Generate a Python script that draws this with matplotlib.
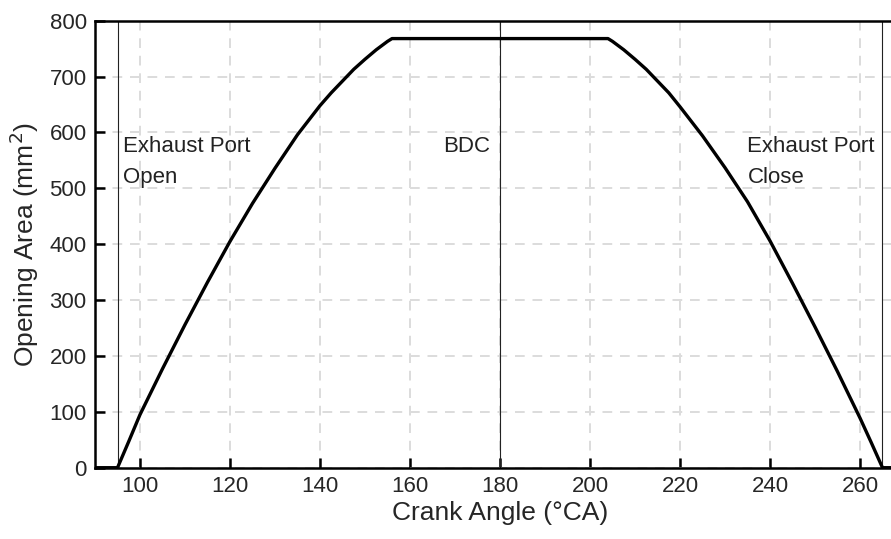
import matplotlib
matplotlib.use("Agg")
import matplotlib.pyplot as plt

plt.rcParams['font.family'] = ['Liberation Sans', 'DejaVu Sans']

# exhaust port opening area vs crank angle
crank_angle = [90, 95, 97.5, 100, 105, 110, 115, 120, 125, 130, 135, 137.5, 140, 142.5,
               145, 147.5, 150, 152.5, 155, 156,
               204, 205, 207.5, 210, 212.5, 215, 217.5, 220, 222.5, 225, 230, 235, 240,
               245, 250, 255, 260, 262.5, 265, 270]
open_area = [0, 0, 47, 95, 177, 256, 332, 405, 473, 536, 596, 622, 648, 671,
             692, 713, 731, 748, 763, 768,
             768, 763, 748, 731, 713, 692, 671, 646, 620, 594, 537, 476, 406,
             330, 252, 172, 89, 45, 0, 0]

marker_angles = [95, 180, 265]
marker_labels = ["Exhaust Port\nOpen", "BDC", "Exhaust Port\nClose"]
label_x = [96.2, 167.3, 235.0]

xticks = [100, 120, 140, 160, 180, 200, 220, 240, 260]
yticks = [0, 100, 200, 300, 400, 500, 600, 700, 800]

fig = plt.figure(figsize=(8.91, 5.39), dpi=100)
ax = fig.add_axes([95 / 891, 71.3 / 539, 810 / 891, 447 / 539])

ax.grid(True, color='#dcdcdc', linestyle=(0, (5, 4)), linewidth=1.4)
ax.set_axisbelow(True)

for xa in marker_angles:
    ax.axvline(xa, color='#222222', linewidth=0.8, zorder=2)

ax.plot(crank_angle, open_area, color='black', linewidth=2.4, zorder=3)

for xt, lab in zip(label_x, marker_labels):
    lines = lab.split("\n")
    ax.text(xt, 565, lines[0], fontsize=16, color='#222222', ha='left', va='baseline')
    if len(lines) > 1:
        ax.text(xt, 509, lines[1], fontsize=16, color='#222222', ha='left', va='baseline')

ax.set_xlim(90, 270)
ax.set_ylim(0, 800)
ax.set_xticks(xticks)
ax.set_yticks(yticks)
ax.tick_params(direction='in', length=7, width=1.8, labelsize=16, labelcolor='#262626',
               top=False, right=False, pad=6)
for s in ax.spines.values():
    s.set_linewidth(1.8)
    s.set_color('black')

ax.set_xlabel("Crank Angle (°CA)", fontsize=19, color='#262626', labelpad=3)
ax.set_ylabel("Opening Area (mm$^2$)", fontsize=19, color='#262626', labelpad=6)

fig.savefig("out.png", dpi=100)
